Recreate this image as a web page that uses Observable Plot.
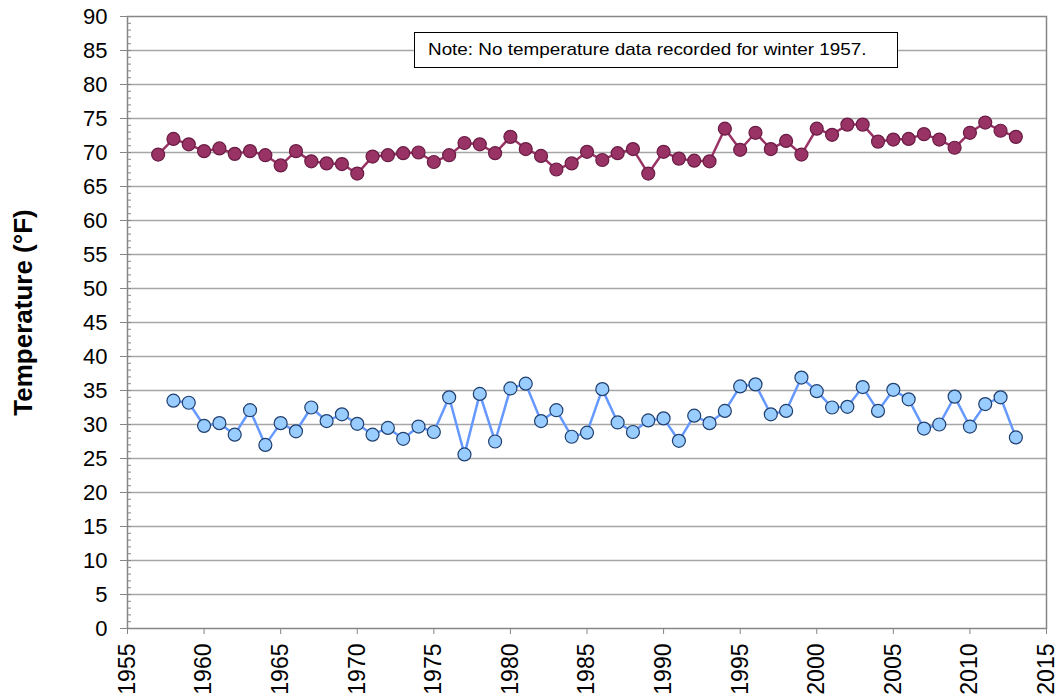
<!DOCTYPE html>
<html><head><meta charset="utf-8">
<script src="https://cdn.jsdelivr.net/npm/d3@7"></script>
<script src="https://cdn.jsdelivr.net/npm/@observablehq/plot@0.6"></script>
<style>
body{margin:0;background:#fff;font-family:"Liberation Sans",Arial,sans-serif}
#wrap{position:relative;width:1060px;height:700px;overflow:hidden}
#note{position:absolute;left:414px;top:32px;width:484px;height:36px;border:1px solid #000;box-sizing:border-box;background:#fff;color:#000;white-space:nowrap}
#note span{position:absolute;left:13px;top:0;line-height:34px;font-size:17px;display:inline-block;transform:scaleX(1.11);transform-origin:0 50%}
</style></head><body><div id="wrap"></div>
<script>
const summerYears = [1957,1958,1959,1960,1961,1962,1963,1964,1965,1966,1967,1968,1969,1970,1971,1972,1973,1974,1975,1976,1977,1978,1979,1980,1981,1982,1983,1984,1985,1986,1987,1988,1989,1990,1991,1992,1993,1994,1995,1996,1997,1998,1999,2000,2001,2002,2003,2004,2005,2006,2007,2008,2009,2010,2011,2012,2013];
const summerTemps = [69.7,72.0,71.2,70.2,70.6,69.8,70.2,69.6,68.1,70.2,68.7,68.4,68.3,66.9,69.4,69.6,69.9,70.0,68.6,69.6,71.4,71.2,69.9,72.3,70.5,69.5,67.5,68.4,70.1,68.9,69.9,70.5,66.9,70.1,69.1,68.8,68.7,73.5,70.4,72.9,70.5,71.7,69.7,73.5,72.6,74.1,74.1,71.6,71.9,72.0,72.7,71.9,70.7,72.9,74.4,73.2,72.3];
const winterYears = [1958,1959,1960,1961,1962,1963,1964,1965,1966,1967,1968,1969,1970,1971,1972,1973,1974,1975,1976,1977,1978,1979,1980,1981,1982,1983,1984,1985,1986,1987,1988,1989,1990,1991,1992,1993,1994,1995,1996,1997,1998,1999,2000,2001,2002,2003,2004,2005,2006,2007,2008,2009,2010,2011,2012,2013];
const winterTemps = [33.5,33.2,29.8,30.2,28.5,32.1,27.0,30.2,29.0,32.5,30.5,31.5,30.1,28.5,29.5,27.9,29.7,28.9,34.0,25.6,34.5,27.5,35.3,36.0,30.5,32.1,28.2,28.8,35.2,30.3,28.9,30.6,30.9,27.6,31.3,30.2,32.0,35.6,35.9,31.5,32.0,36.9,34.9,32.5,32.6,35.5,32.0,35.1,33.7,29.4,30.0,34.1,29.7,33.0,34.0,28.1];
const xTicks = [1955,1960,1965,1970,1975,1980,1985,1990,1995,2000,2005,2010,2015];
const yTicks = [0,5,10,15,20,25,30,35,40,45,50,55,60,65,70,75,80,85,90];
const gridValues = [5,10,15,20,25,30,35,40,45,50,55,60,65,70,75,80,85];
const minorTicks = d3.range(0, 91, 1);
const yLabel = "Temperature (°F)";
const noteText = "Note: No temperature data recorded for winter 1957.";

const summer = summerYears.map((year, i) => ({year, temp: summerTemps[i]}));
const winter = winterYears.map((year, i) => ({year, temp: winterTemps[i]}));

const W = 1060, H = 700, ML = 127, MR = 14, MT = 16, MB = 72;
const plotW = W - ML - MR;

const chart = Plot.plot({
  width: W, height: H,
  marginLeft: ML, marginRight: MR, marginTop: MT, marginBottom: MB,
  style: {fontFamily: '"Liberation Sans", Arial, sans-serif', fontSize: "20px", color: "#000", background: "#fff", overflow: "visible"},
  x: {domain: [1955, 2015]},
  y: {domain: [0, 90]},
  marks: [
    Plot.ruleY(gridValues, {stroke: "#a6a6a6", strokeWidth: 1.5}),
    Plot.ruleY(minorTicks, {stroke: "#868686", strokeWidth: 1, insetRight: plotW - 4}),
    Plot.frame({stroke: "#868686", strokeWidth: 1.5}),
    Plot.axisY({ticks: yTicks, tickSize: 7, tickPadding: 13, label: null, stroke: "#868686", fill: "#000", fontSize: 22}),
    Plot.axisX({ticks: xTicks, tickFormat: d => String(d), tickRotate: -90, tickSize: 6, tickPadding: 9, label: null, stroke: "#868686", fill: "#000", fontSize: 23}),
    Plot.text([yLabel], {text: d => d, frameAnchor: "left", textAnchor: "middle", rotate: -90, dx: -104, dy: -10, fontWeight: "bold", fontSize: 26, fill: "#000"}),
    Plot.line(summer, {x: "year", y: "temp", stroke: "#993366", strokeWidth: 2.5}),
    Plot.dot(summer, {x: "year", y: "temp", r: 6.5, fill: "#993366", stroke: "#6a1c44", strokeWidth: 1.2}),
    Plot.line(winter, {x: "year", y: "temp", stroke: "#6699ff", strokeWidth: 2.5}),
    Plot.dot(winter, {x: "year", y: "temp", r: 6.5, fill: "#99ccff", stroke: "#1f3f6e", strokeWidth: 1.2})
  ]
});
const wrap = document.getElementById("wrap");
wrap.appendChild(chart);
const note = document.createElement("div");
note.id = "note";
const span = document.createElement("span");
span.textContent = noteText;
note.appendChild(span);
wrap.appendChild(note);
</script>
</body></html>
